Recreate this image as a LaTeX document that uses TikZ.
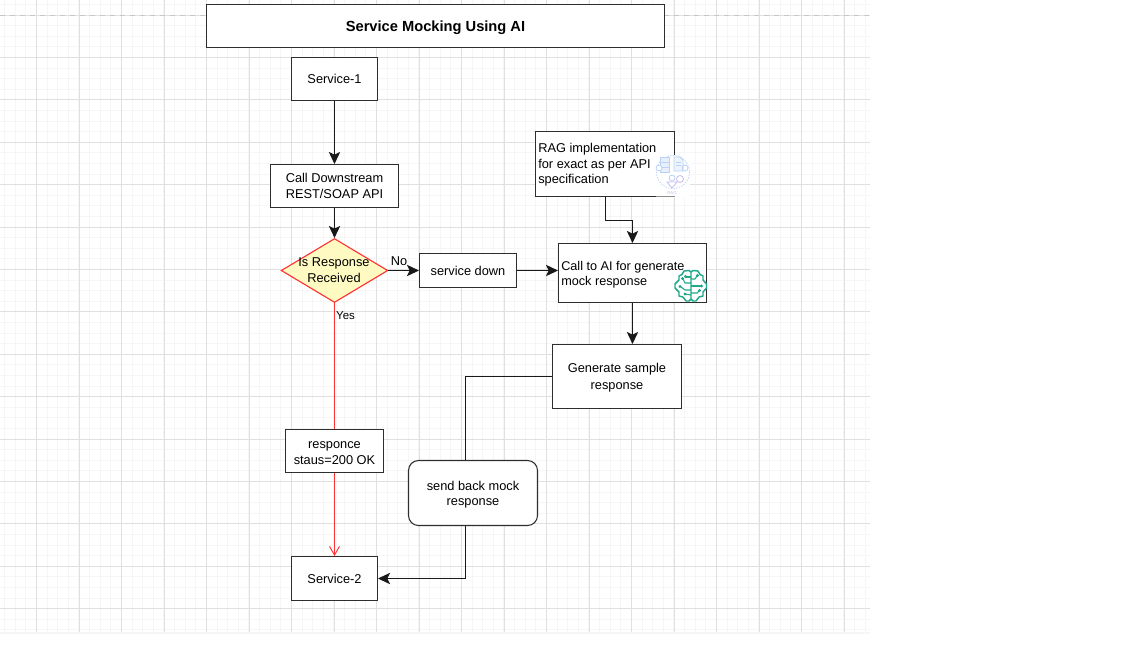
\documentclass[tikz,border=0pt]{standalone}
\usepackage{fontspec}
\setmainfont{Liberation Sans}
\usetikzlibrary{arrows.meta,shapes.geometric,calc}
\definecolor{majorgrid}{HTML}{E0E0E0}
\definecolor{minorgrid}{HTML}{F6F6F6}
\definecolor{boxline}{HTML}{2E2E2E}
\definecolor{aigreen}{HTML}{1FA98A}
\definecolor{ragblue}{HTML}{B9D2F6}
\definecolor{ragviolet}{HTML}{C5BDF2}
\definecolor{flowred}{HTML}{FF3333}
\definecolor{decfill}{HTML}{FFFAC2}
\tikzset{
  x=0.75pt,y=-0.75pt,
  boxnode/.style={draw=boxline,line width=0.8pt,fill=white,inner sep=0pt,align=center,font=\fontsize{9.6}{11.6}\selectfont},
  conn/.style={draw=black!90,line width=0.8pt,-{Stealth[length=9pt,width=8.5pt,inset=2pt]}},
  redconn/.style={draw=flowred,line width=0.8pt,-{Straight Barb[length=6.5pt,width=7.5pt,line width=0.7pt]}},
  lab/.style={inner sep=0pt},
  ragline/.style={draw=ragblue,line width=0.6pt},
  aitrace/.style={draw=aigreen,line width=0.8pt},
}
\newcommand{\rsdrop}[1]{\rule{0pt}{#1pt}}
\begin{document}
\begin{tikzpicture}
\useasboundingbox (0,0) rectangle (1146,644);
\fill[white] (0,0) rectangle (1146,644);
% grid: minor lines
\foreach \k in {0,...,81} {
  \draw[minorgrid,line width=0.75pt] ({4.6+10.625*\k},0) -- ({4.6+10.625*\k},632);
}
\foreach \k in {0,...,59} {
  \draw[minorgrid,line width=0.75pt] (0,{4.4+10.6*\k}) -- (870,{4.4+10.6*\k});
}
% grid: major lines
\foreach \k in {0,...,19} {
  \draw[majorgrid,line width=0.75pt] ({36.5+42.5*\k},0) -- ({36.5+42.5*\k},632);
}
\foreach \k in {0,...,14} {
  \draw[majorgrid,line width=0.75pt] (0,{15+42.4*\k}) -- (870,{15+42.4*\k});
}
\fill[minorgrid] (0,632) rectangle (870,634);
% dashed page break line
\draw[black!22,line width=1pt,dash pattern=on 4pt off 3.5pt] (0,15.5) -- (206,15.5);
\draw[black!22,line width=1pt,dash pattern=on 4pt off 3.5pt] (664,15.5) -- (870,15.5);

% nodes
\node[boxnode,minimum width=343.5pt,minimum height=32.25pt,font=\fontsize{11}{13}\selectfont\bfseries] (title) at (435.5,26) {\rsdrop{11}Service Mocking Using AI};
\node[boxnode,minimum width=64.5pt,minimum height=32.25pt] (svcone) at (334.5,79) {Service-1};
\node[boxnode,minimum width=96pt,minimum height=32.25pt] (call) at (334.5,186) {Call Downstream\\REST/SOAP API};
\node[diamond,draw=flowred,line width=0.85pt,fill=decfill,minimum width=80pt,minimum height=48pt,inner sep=0pt,aspect=1.66] (dec) at (334.5,270.5) {};
\node[lab,align=center,font=\fontsize{9.6}{11.6}\selectfont] (dectext) at (334,270) {Is Response\\Received};
\node[boxnode,minimum width=72.75pt,minimum height=25.5pt] (down) at (468,270.5) {service down};
\node[boxnode,minimum width=104.25pt,minimum height=48.75pt] (rag) at (605,164) {};
\node[lab,anchor=west,align=left,font=\fontsize{9.6}{11.6}\selectfont] (ragtext) at (538,165) {RAG implementation\\for exact as per API\\specification};
\node[boxnode,minimum width=111pt,minimum height=44.25pt] (ai) at (632.5,273) {};
\node[lab,anchor=west,align=left,font=\fontsize{9.5}{11.6}\selectfont] (aitext) at (561,274.5) {Call to AI for generate\\mock response};
\node[boxnode,minimum width=96.75pt,minimum height=48pt] (gen) at (617,376.5) {\rsdrop{8.4}Generate sample\\[1.2pt]response};
\node[boxnode,minimum width=64.5pt,minimum height=33pt] (svctwo) at (334.5,578.5) {Service-2};
\coordinate (ragout) at (605.5,196.5);
\coordinate (ragbend) at (605.5,220.5);
\coordinate (aibend) at (632.5,220.5);
\coordinate (genbend) at (465.5,376.5);
\coordinate (svcbend) at (465.5,578.5);

% connectors
\draw[conn] (svcone) -- (call);
\draw[conn] (call) -- (dec.north);
\draw[conn] (dec.east) -- (down.west) node[pos=0.35,above=3.5pt,lab,font=\fontsize{9.6}{11}\selectfont] (nolabel) {No};
\draw[conn] (down.east) -- (ai.west |- down.east);
\draw[conn] (ragout) -- (ragbend) -- (aibend) -- (ai.north);
\draw[conn] (ai.south) -- (ai.south |- gen.north);
\draw[conn] (gen.west) -- (genbend) -- (svcbend) -- (svctwo.east);
\draw[redconn] (dec.south) -- (svctwo.north);
\node[lab,font=\fontsize{8.6}{10}\selectfont] (yeslabel) at (345.5,315.5) {Yes};

% boxes over the connectors
\node[boxnode,minimum width=73.5pt,minimum height=32.25pt] (resp) at (334.5,451) {\rsdrop{8.6}responce\\staus=200 OK};
\node[boxnode,rounded corners=7.5pt,minimum width=96.75pt,minimum height=48.75pt] (back) at (473,493) {\rsdrop{9.2}send back mock\\response};

% RAG icon
\fill[white] (656,155) rectangle (690,197.5);
\draw[black!45,line width=0.8pt] (656,196.5) -- (675,196.5);
\draw[ragblue,line width=0.6pt,dash pattern=on 1pt off 1pt] (673,172) circle[radius=16.5];
\fill[ragblue!35] (660,157) rectangle (669,172);
\draw[ragline] (660,157) rectangle (669,172);
\draw[ragline] (660,162) -- (669,162) (660,167) -- (669,167);
\fill[white] (659,168) circle[radius=3];
\draw[ragline] (659,168) circle[radius=3];
\fill[ragblue!25] (674,157) -- (680,157) -- (683,160) -- (683,171) -- (674,171) -- cycle;
\draw[ragline] (674,157) -- (680,157) -- (683,160) -- (683,171) -- (674,171) -- cycle;
\draw[ragline] (676,162) -- (681,162) (676,165) -- (681,165);
\draw[ragline] (685,168) circle[radius=3];
\draw[ragline] (672,178) circle[radius=3];
\draw[ragviolet,line width=0.6pt] (680,179) circle[radius=3.5];
\draw[ragviolet,line width=0.6pt] (667,182) -- (672,188) -- (677,182) -- cycle;
\node[lab,text=ragviolet,font=\fontsize{3.2}{3.2}\selectfont] (ragicon) at (672,193.5) {RAG};

% AI brain icon
\fill[white] (675,270) rectangle (705,301);
\draw[aitrace,line width=1.1pt,line join=round]
  (691,272) -- (689,270.5) -- (684,271) -- (682,274.5) -- (679,276) -- (679,280)
  -- (675,284) -- (675,288) -- (679,292) -- (679,296) -- (683,297)
  -- (686,301) -- (689,301) -- (691,299)
  -- (691,272) -- (693,270.5) -- (698,271) -- (700,274.5) -- (703,276) -- (703,280)
  -- (706.5,284) -- (706.5,288) -- (703,292) -- (703,296) -- (699,297)
  -- (696,301) -- (693,301) -- (691,299);
\draw[aitrace] (691,279) -- (695,279) -- (697,276);
\draw[aitrace] (691,286) -- (701,286);
\draw[aitrace] (691,293) -- (697,293) -- (699,291);
\draw[aitrace] (691,283) -- (685,283) -- (683,279);
\draw[aitrace] (691,277) -- (686,277);
\draw[aitrace] (691,290) -- (685,290) -- (681,287);
\foreach \cx/\cy in {697.5/275.5,701.5/286,699.5/290.5,682.5/278.5,685.5/276.5,680/286.5,685/294} {
  \fill[aigreen] (\cx,\cy) circle[radius=1.6];
}
\draw[aitrace] (691,295) -- (685,294);
\end{tikzpicture}
\end{document}
